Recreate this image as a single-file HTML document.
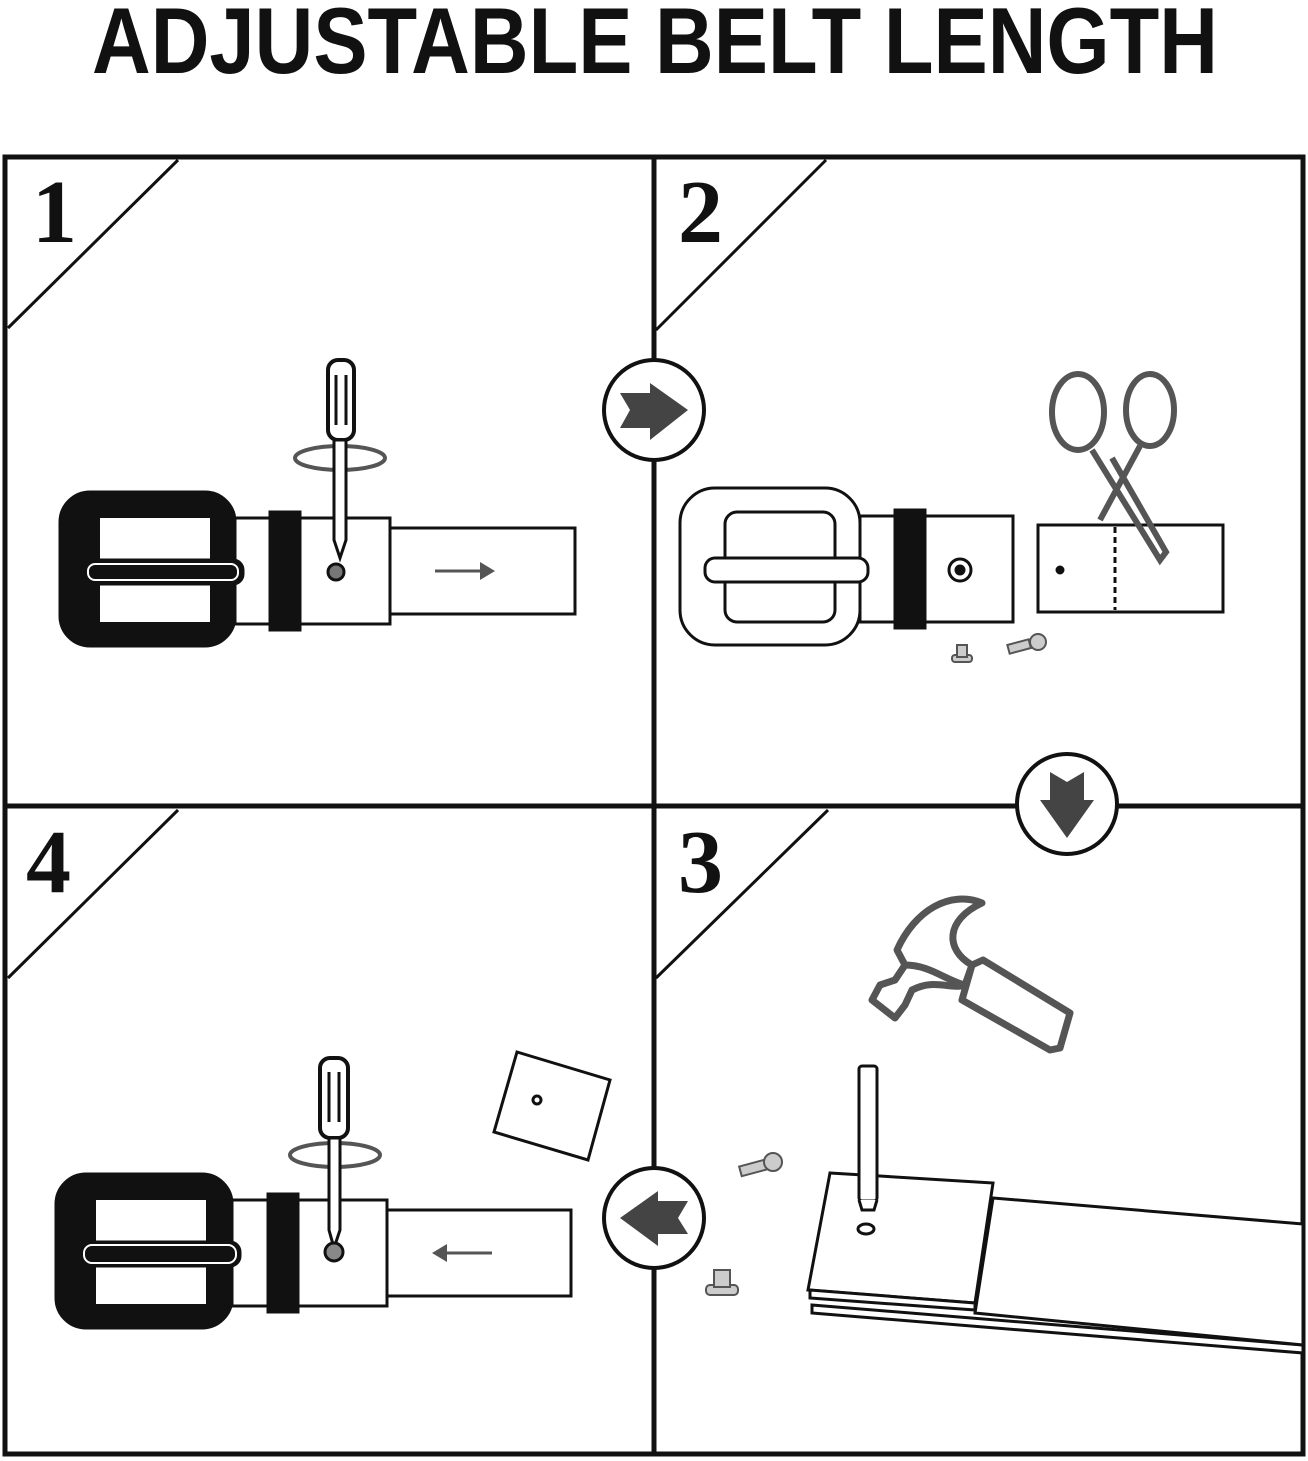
<!DOCTYPE html>
<html><head><meta charset="utf-8"><style>
html,body{margin:0;padding:0;background:#fff;width:1308px;height:1461px;overflow:hidden}
svg{position:absolute;left:0;top:0}
</style></head><body>
<svg width="1308" height="1461" viewBox="0 0 1308 1461">
<text x="92" y="73" font-family="Liberation Sans,sans-serif" font-weight="bold" font-size="94" fill="#111" textLength="1126" lengthAdjust="spacingAndGlyphs">ADJUSTABLE BELT LENGTH</text>
<g fill="none" stroke="#111" stroke-width="5">
<rect x="5" y="157" width="1298" height="1297"/>
<line x1="654" y1="157" x2="654" y2="1454"/>
<line x1="5" y1="806" x2="1303" y2="806"/>
</g>
<g stroke="#111" stroke-width="3">
<line x1="8" y1="328" x2="178" y2="160"/>
<line x1="656" y1="330" x2="826" y2="160"/>
<line x1="8" y1="978" x2="178" y2="810"/>
<line x1="656" y1="978" x2="828" y2="810"/>
</g>
<g font-family="Liberation Serif,serif" font-weight="bold" font-size="90" fill="#111">
<text x="32" y="242">1</text><text x="678" y="242">2</text>
<text x="26" y="892">4</text><text x="678" y="892">3</text>
</g>
<g fill="#fff" stroke="#111" stroke-width="4">
<circle cx="654" cy="410" r="50"/><circle cx="1067" cy="804" r="50"/><circle cx="654" cy="1218" r="50"/>
</g>
<g fill="#444">
<polygon points="620,393 650,393 650,383 688,410 650,440 650,428 620,428 630,410"/>
<polygon points="1050,772 1050,800 1040,800 1067,838 1094,800 1084,800 1084,772 1067,782"/>
<polygon points="688,1201 658,1201 658,1191 620,1218 658,1246 658,1234 688,1234 678,1218"/>
</g>
<!-- panel 1 -->
<g stroke="#111" fill="#fff" stroke-width="3">
<rect x="60" y="492" width="175" height="154" rx="30" fill="#111"/>
<rect x="100" y="518" width="110" height="104" fill="#fff" stroke="none"/>
<rect x="235" y="518" width="155" height="106"/>
<rect x="390" y="528" width="185" height="86"/>
<rect x="270" y="512" width="30" height="118" fill="#111"/>
<rect x="83" y="560" width="160" height="24" rx="10" fill="#111"/>
<rect x="88" y="564" width="150" height="16" rx="7" fill="none" stroke="#fff" stroke-width="2"/>
<line x1="435" y1="571" x2="490" y2="571" stroke="#555"/>
<polygon points="495,571 480,562 480,580" fill="#555" stroke="none"/>
<rect x="328" y="360" width="26" height="80" rx="10" stroke-width="4"/>
<line x1="336" y1="375" x2="336" y2="425"/><line x1="346" y1="375" x2="346" y2="425"/>
<ellipse cx="340" cy="458" rx="45" ry="12" fill="none" stroke="#555" stroke-width="4"/>
<path d="M334,440 L334,540 L340,558 L346,540 L346,440 Z"/>
<circle cx="336" cy="572" r="8" fill="#777"/>
</g>
<!-- panel 4 -->
<g stroke="#111" fill="#fff" stroke-width="3">
<rect x="56" y="1174" width="176" height="154" rx="30" fill="#111"/>
<rect x="96" y="1200" width="110" height="104" fill="#fff" stroke="none"/>
<rect x="232" y="1200" width="155" height="106"/>
<rect x="387" y="1210" width="184" height="86"/>
<rect x="268" y="1194" width="30" height="118" fill="#111"/>
<rect x="80" y="1242" width="160" height="24" rx="10" fill="#111" stroke="#111"/>
<rect x="84" y="1245" width="152" height="18" rx="8" fill="none" stroke="#fff" stroke-width="2"/>
<line x1="440" y1="1253" x2="492" y2="1253" stroke="#555"/>
<polygon points="432,1253 447,1244 447,1262" fill="#555" stroke="none"/>
<rect x="320" y="1058" width="28" height="80" rx="10" stroke-width="4"/>
<line x1="329" y1="1072" x2="329" y2="1122"/><line x1="339" y1="1072" x2="339" y2="1122"/>
<ellipse cx="335" cy="1155" rx="45" ry="12" fill="none" stroke="#555" stroke-width="4"/>
<path d="M329,1138 L329,1230 L334,1248 L340,1230 L340,1138 Z"/>
<circle cx="334" cy="1252" r="9" fill="#888"/>
<polygon points="517,1052 610,1080 588,1160 494,1132"/>
<circle cx="537" cy="1100" r="4"/>
</g>
<!-- panel 2 -->
<g stroke="#111" fill="#fff" stroke-width="3">
<rect x="680" y="488" width="180" height="157" rx="35"/>
<rect x="725" y="512" width="110" height="110" rx="12"/>
<rect x="860" y="516" width="153" height="106"/>
<rect x="895" y="510" width="30" height="118" fill="#111"/>
<rect x="705" y="558" width="163" height="24" rx="10"/>
<circle cx="960" cy="570" r="11"/><circle cx="960" cy="570" r="4" fill="#111"/>
<rect x="1038" y="525" width="185" height="87"/>
<line x1="1115" y1="527" x2="1115" y2="610" stroke-dasharray="6,4"/>
<circle cx="1060" cy="570" r="3" fill="#111"/>
</g>
<g stroke="#555" fill="none" stroke-width="6">
<ellipse cx="1078" cy="412" rx="26" ry="38"/>
<ellipse cx="1150" cy="410" rx="24" ry="36"/>
<path d="M1092,450 L1160,560 L1166,552 L1112,458"/>
<path d="M1140,446 L1100,520"/>
</g>
<g stroke="#555" fill="#ccc" stroke-width="2">
<rect x="952" y="655" width="20" height="7" rx="3"/><rect x="957" y="645" width="10" height="12"/>
<rect x="1008" y="642" width="22" height="9" transform="rotate(-15 1019 646)"/><circle cx="1038" cy="642" r="8"/>
<rect x="740" y="1163" width="26" height="10" transform="rotate(-15 753 1168)"/><circle cx="773" cy="1162" r="9"/>
<rect x="706" y="1285" width="32" height="10" rx="4"/><rect x="714" y="1270" width="16" height="17"/>
</g>
<!-- panel 3 -->
<g stroke="#111" fill="#fff" stroke-width="3">
<polygon points="812,1305 1303,1345 1303,1353 812,1313"/>
<polygon points="993,1198 1303,1224 1303,1345 975,1313"/>
<polygon points="830,1173 993,1183 975,1303 808,1290"/>
<polygon points="810,1290 975,1303 975,1310 810,1298"/>
<rect x="859" y="1066" width="18" height="135" rx="3"/>
<path d="M859,1200 L862,1210 L874,1210 L877,1200" />
<ellipse cx="866" cy="1229" rx="8" ry="5"/>
</g>
<g stroke="#555" fill="none" stroke-width="7" stroke-linejoin="round">
<path d="M982,903 C950,890 915,910 897,950 L905,965 C930,965 945,980 965,985 L972,965 C945,950 945,920 982,903 Z"/>
<path d="M905,965 L895,980 L880,985 L872,1000 L895,1018 L905,1005 L912,990 C935,978 950,990 965,985"/>
<path d="M972,965 L983,960 L1070,1013 L1060,1048 L1050,1050 L962,1000 Z"/>
</g>
</svg>
</body></html>
